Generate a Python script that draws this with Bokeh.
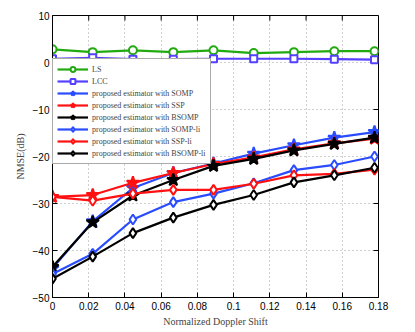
from bokeh.plotting import figure
from bokeh.models import Legend, LegendItem, FixedTicker, Range1d
from bokeh.embed import file_html
from bokeh.resources import INLINE

x = [0, 0.0222, 0.0444, 0.0667, 0.0889, 0.1111, 0.1333, 0.1556, 0.1778]

ls = [2.8, 2.2, 2.6, 2.2, 2.6, 2.0, 2.2, 2.4, 2.4]
lcc = [0.8, 1.0, 0.7, 0.7, 0.8, 0.8, 0.8, 0.7, 0.6]
somp = [-43.8, -33.8, -26.7, -23.5, -21.5, -19.4, -17.6, -16.0, -14.8]
ssp = [-28.6, -28.2, -25.6, -23.5, -21.6, -20.2, -18.5, -17.2, -16.2]
bsomp = [-43.5, -34.0, -28.3, -25.0, -22.0, -20.5, -18.7, -17.3, -16.0]
somp_li = [-45.0, -40.7, -33.4, -29.7, -27.9, -25.7, -22.9, -21.8, -20.0]
ssp_li = [-28.6, -29.4, -27.9, -27.1, -27.1, -25.8, -24.0, -23.7, -22.8]
bsomp_li = [-46.0, -41.3, -36.3, -33.0, -30.3, -28.2, -25.5, -24.0, -22.4]

labels = ["LS", "LCC", "proposed estimator with SOMP", "proposed estimator with SSP",
          "proposed estimator with BSOMP", "proposed estimator with SOMP-li",
          "proposed estimator with SSP-li", "proposed estimator with BSOMP-li"]

x_ticks = [0, 0.02, 0.04, 0.06, 0.08, 0.1, 0.12, 0.14, 0.16, 0.18]
y_ticks = [-50, -40, -30, -20, -10, 0, 10]
x_min, x_max = 0, 0.18
y_min, y_max = -50, 10

p = figure(output_backend="svg", toolbar_location=None,
           frame_width=326, frame_height=282,
           x_range=Range1d(x_min, x_max), y_range=Range1d(y_min, y_max),
           min_border_left=52, min_border_top=15, min_border_right=20, min_border_bottom=26)
p.background_fill_color = "white"
p.border_fill_color = "white"
p.outline_line_color = "black"
p.outline_line_width = 1

for ax in (p.xaxis[0], p.yaxis[0]):
    ax.major_tick_in = 5
    ax.major_tick_out = 0
    ax.minor_tick_line_color = None
    ax.major_label_text_font = "Liberation Sans"
    ax.major_label_text_font_size = "10px"
    ax.major_label_text_color = "black"
    ax.axis_label_text_font = "Liberation Serif"
    ax.axis_label_text_font_size = "10px"
    ax.axis_label_text_font_style = "normal"
    ax.axis_line_color = "black"
p.xaxis.ticker = FixedTicker(ticks=x_ticks)
p.yaxis.ticker = FixedTicker(ticks=y_ticks)
p.xaxis.axis_label = "Normalized Doppler Shift"
p.yaxis.axis_label = "NMSE(dB)"
p.xaxis.axis_label_standoff = 3
p.yaxis.axis_label_standoff = 4
p.xaxis.major_label_standoff = 4
p.yaxis.major_label_standoff = 3

p.grid.grid_line_color = "#888888"
p.grid.grid_line_dash = "1 3"
p.grid.grid_line_alpha = 0.8
p.xgrid.ticker = FixedTicker(ticks=x_ticks)
p.ygrid.ticker = FixedTicker(ticks=y_ticks)

# inward ticks on top and right edges (MATLAB box style)
tick_len_y = 5 * (y_max - y_min) / 282
tick_len_x = 5 * (x_max - x_min) / 326
p.segment(x0=x_ticks, y0=[y_max] * len(x_ticks), x1=x_ticks,
          y1=[y_max - tick_len_y] * len(x_ticks), line_color="black", line_width=1)
p.segment(x0=[x_max] * len(y_ticks), y0=y_ticks, x1=[x_max - tick_len_x] * len(y_ticks),
          y1=y_ticks, line_color="black", line_width=1)

series = [
    (ls, "#22aa11", "circle", 8, "white"),
    (lcc, "#5540ff", "square", 7, "white"),
    (somp, "#2a4cff", "star", 13, "#2a4cff"),
    (ssp, "#ff1111", "star", 13, "#ff1111"),
    (bsomp, "black", "star", 13, "black"),
    (somp_li, "#2a4cff", "diamond", 10, "white"),
    (ssp_li, "#ff1111", "diamond", 10, "white"),
    (bsomp_li, "black", "diamond", 10, "white"),
]

items = []
for (ys, col, mk, sz, fill), lab in zip(series, labels):
    r1 = p.line(x, ys, line_color=col, line_width=2.2)
    r2 = p.scatter(x, ys, marker=mk, size=sz, line_color=col, fill_color=fill, line_width=2)
    items.append(LegendItem(label=lab, renderers=[r1, r2]))

legend = Legend(items=items, location=(0, 133))
legend.label_text_font = "Liberation Serif"
legend.label_text_font_size = "8px"
legend.label_height = 12
legend.glyph_height = 12
legend.glyph_width = 31
legend.spacing = 0
legend.padding = 4
legend.margin = 0
legend.label_standoff = 4
legend.border_line_color = "#555555"
legend.border_line_width = 1
legend.background_fill_alpha = 1
p.add_layout(legend, "center")

open("out.html", "w").write(file_html(p, INLINE))
